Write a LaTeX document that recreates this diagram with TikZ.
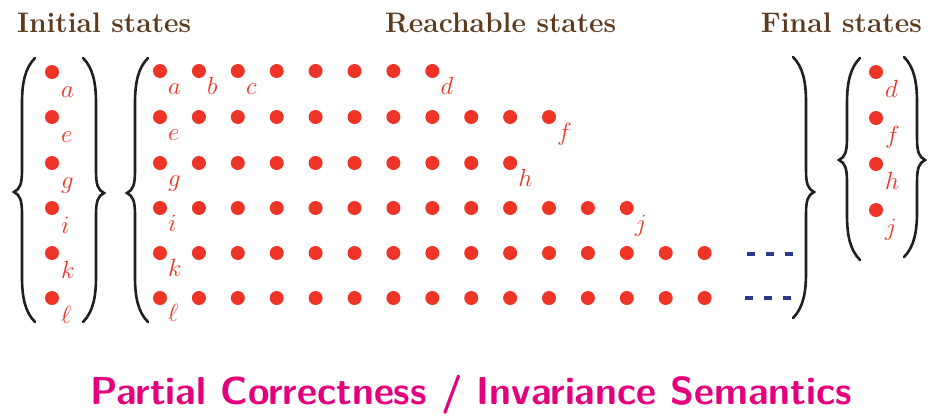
\documentclass[tikz,border=0pt]{standalone}
\usepackage{xcolor}
\definecolor{dotred}{RGB}{237,52,38}
\definecolor{headbrown}{RGB}{92,58,28}
\definecolor{titlemag}{RGB}{228,0,124}
\definecolor{dashblue}{RGB}{43,57,144}
\newcommand{\drawbrace}[5]{%
  \draw[bracestyle] ({#1+#5*13},#2) .. controls ({#1+#5*3},{#2+10}) and (#1,{#2+25}) .. (#1,{#2+45})
    -- (#1,{#4-22})
    .. controls (#1,{#4-8}) and ({#1-#5*2},{#4-3}) .. ({#1-#5*8},#4)
    .. controls ({#1-#5*2},{#4+3}) and (#1,{#4+8}) .. (#1,{#4+22})
    -- (#1,{#3-45})
    .. controls (#1,{#3-25}) and ({#1+#5*3},{#3-10}) .. ({#1+#5*13},#3);}
\begin{document}
\begin{tikzpicture}[x=1pt,y=-1pt,
  st/.style={circle,fill=dotred,inner sep=0pt,minimum size=14pt},
  lab/.style={text=dotred,font=\fontsize{31}{33}\selectfont,inner sep=0pt,anchor=base west},
  head/.style={text=headbrown,font=\fontsize{28.2}{30}\selectfont\bfseries,inner sep=0pt},
  ttl/.style={text=titlemag,font=\fontsize{39}{42}\selectfont\sffamily\bfseries,inner sep=0pt},
  bracestyle/.style={line width=2.6pt,draw=black!88,line cap=round},
  dashstyle/.style={line width=4pt,draw=dashblue,dash pattern=on 8pt off 11pt}
]
\useasboundingbox (0,0) rectangle (941,416);
% headings
\node[head,anchor=base west] (hinit) at (17,32) {Initial states};
\node[head,anchor=base west] (hreach) at (385,32) {Reachable states};
\node[head,anchor=base east] (hfinal) at (922,32) {Final states};
% initial states
\foreach \n/\yy/\l in {ia/72/a, ie/117/e, ig/163/g, ii/208/i, ik/253/k, il/298/\ell} {
  \node[st] (\n) at (52,\yy) {};
  \node[lab] (\n-l) at ([shift={(9,25)}]\n.center) {$\l$};
}
% final states
\foreach \n/\yy/\l in {fd/72/d, ff/118/f, fh/164/h, fj/210/j} {
  \node[st] (\n) at (876,\yy) {};
  \node[lab] (\n-l) at ([shift={(9,25)}]\n.center) {$\l$};
}
% reachable states
\foreach \r/\yy/\cnt in {1/71/7, 2/117/10, 3/163/9, 4/208/12, 5/253/14, 6/298/14} {
  \foreach \k in {0,...,\cnt} {
    \node[st] (r\r-\k) at ({160+38.9*\k},\yy) {};
  }
}
\foreach \n/\l in {r1-0/a, r1-1/b, r1-2/c, r1-7/d, r2-0/e, r2-10/f, r3-0/g, r3-9/h, r4-0/i, r4-12/j, r5-0/k, r6-0/\ell} {
  \node[lab] (\n-l) at ([shift={(8,23)}]\n.center) {$\l$};
}
% dashes
\coordinate (d5a) at (747,254); \coordinate (d5b) at (795,254);
\coordinate (d6a) at (745,298); \coordinate (d6b) at (793,298);
\draw[dashstyle] (d5a) -- (d5b);
\draw[dashstyle] (d6a) -- (d6b);
% braces
\drawbrace{22}{58}{322}{192}{1}
\drawbrace{96}{58}{322}{193}{-1}
\drawbrace{135}{58}{322}{193}{1}
\drawbrace{806}{57}{318}{192}{-1}
\drawbrace{847}{58}{260}{160}{1}
\drawbrace{917}{57}{257}{160}{-1}
% title
\node[ttl,anchor=base] (title) at (471,404) {Partial Correctness / Invariance Semantics};
\end{tikzpicture}
\end{document}
